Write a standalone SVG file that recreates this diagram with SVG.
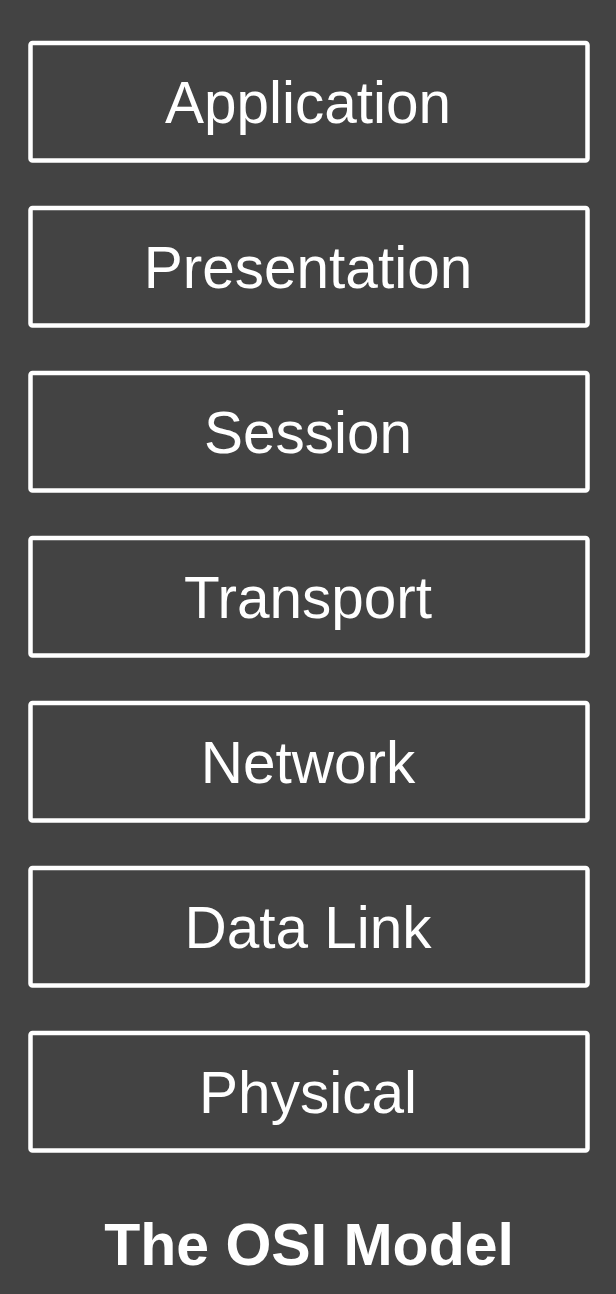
<svg xmlns="http://www.w3.org/2000/svg" width="616" height="1294" viewBox="0 0 616 1294">
<style>
.box{fill:#434343;stroke:#ffffff;stroke-width:4.5}
.lbl{fill:#ffffff;font-family:"Liberation Sans",Arial,sans-serif;font-size:58.5px;text-anchor:middle}
.title{fill:#ffffff;font-family:"Liberation Sans",Arial,sans-serif;font-size:59px;font-weight:bold;text-anchor:middle}
</style>
<rect x="0" y="0" width="616" height="1294" fill="#434343"/>
<g id="application"><rect class="box" x="30.5" y="43" width="557" height="117.5" rx="2"/><text class="lbl" x="308" y="123">Application</text></g>
<g id="presentation"><rect class="box" x="30.5" y="208" width="557" height="117.5" rx="2"/><text class="lbl" x="308" y="288">Presentation</text></g>
<g id="session"><rect class="box" x="30.5" y="373" width="557" height="117.5" rx="2"/><text class="lbl" x="308" y="453">Session</text></g>
<g id="transport"><rect class="box" x="30.5" y="538" width="557" height="117.5" rx="2"/><text class="lbl" x="308" y="618">Transport</text></g>
<g id="network"><rect class="box" x="30.5" y="703" width="557" height="117.5" rx="2"/><text class="lbl" x="308" y="783">Network</text></g>
<g id="datalink"><rect class="box" x="30.5" y="868" width="557" height="117.5" rx="2"/><text class="lbl" x="308" y="948">Data Link</text></g>
<g id="physical"><rect class="box" x="30.5" y="1033" width="557" height="117.5" rx="2"/><text class="lbl" x="308" y="1113">Physical</text></g>
<g id="connectors"></g>
<g id="title"><text class="title" x="309" y="1265">The OSI Model</text></g>
</svg>
